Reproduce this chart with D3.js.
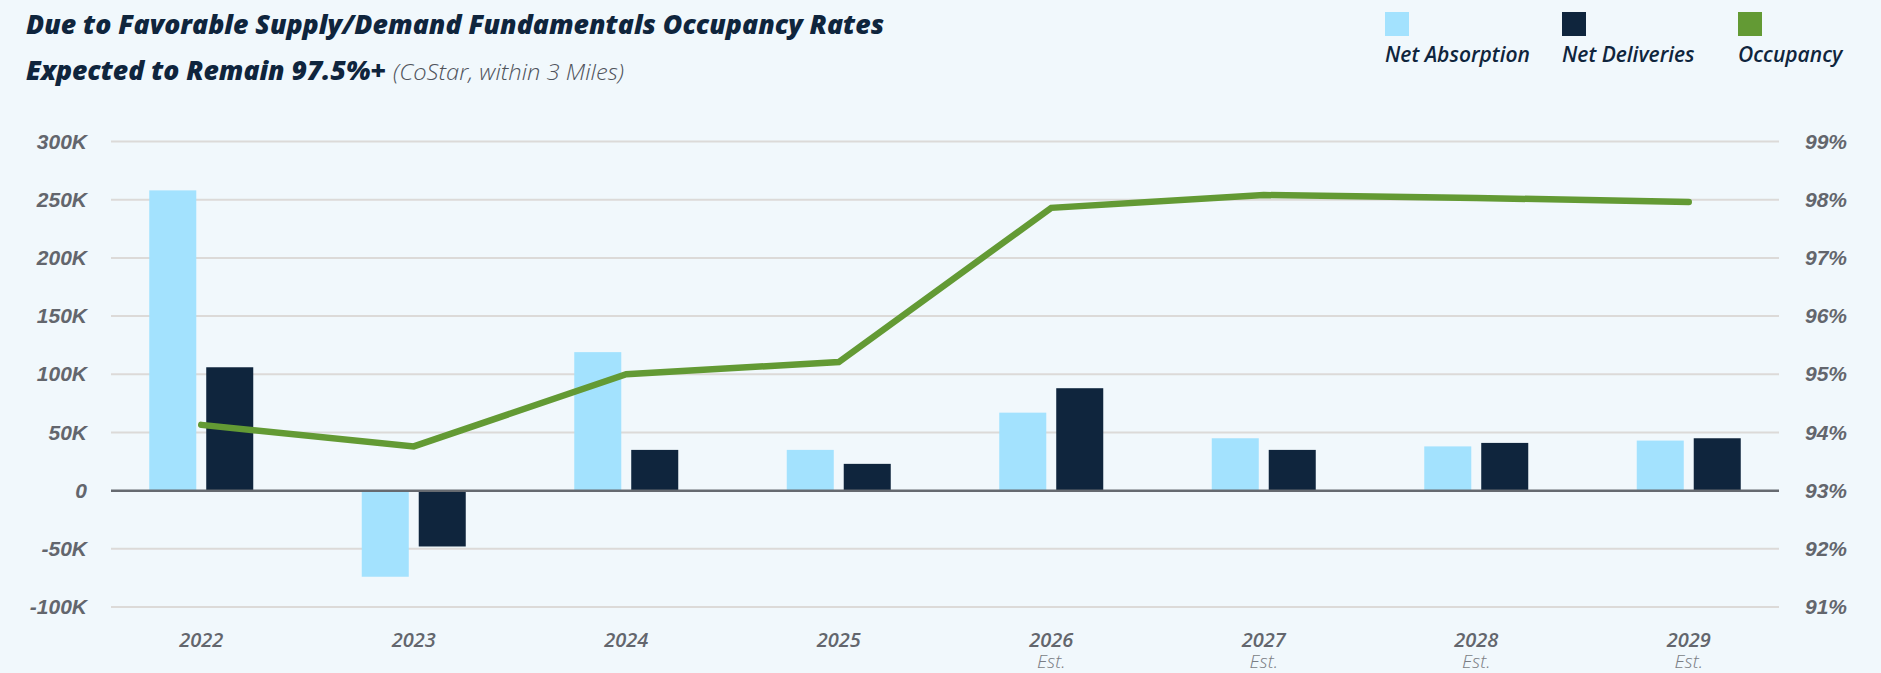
<!DOCTYPE html>
<html>
<head>
<meta charset="utf-8">
<script src="https://cdn.jsdelivr.net/npm/d3@7"></script>
<style>
  body { margin: 0; background: #f1f8fc; }
  svg { display: block; font-family: "Open Sans", sans-serif; }
  .axis text { font-style: italic; font-weight: 600; font-size: 21px; fill: #63666d; }
</style>
</head>
<body>
<div id="chart"></div>
<script>
// Chart data
const years = ["2022", "2023", "2024", "2025", "2026", "2027", "2028", "2029"];
const subLabels = ["", "", "", "", "Est.", "Est.", "Est.", "Est."];
const netAbsorption = [258000, -74000, 119000, 35000, 67000, 45000, 38000, 43000];
const netDeliveries = [106000, -48000, 35000, 23000, 88000, 35000, 41000, 45000];
const occupancy = [94.13, 93.76, 95.0, 95.21, 97.86, 98.08, 98.03, 97.96];
const seriesNames = ["Net Absorption", "Net Deliveries", "Occupancy"];
const barTicks = [-100000, -50000, 0, 50000, 100000, 150000, 200000, 250000, 300000];
const pctTicks = [91, 92, 93, 94, 95, 96, 97, 98, 99];

const W = 1881, H = 673;
const plot = {left: 111, right: 1779, top: 141.5, bottom: 607};

const svg = d3.select("#chart").append("svg")
  .attr("width", W)
  .attr("height", H);

svg.append("rect").attr("width", W).attr("height", H).attr("fill", "#f1f8fc");

// Scales
const x = d3.scaleBand().domain(years).range([95, 1795]).padding(0);
const xSub = d3.scaleBand().domain(seriesNames.slice(0, 2)).range([-52, 52]).paddingInner(0.175);
const y = d3.scaleLinear().domain([-100000, 300000]).range([plot.bottom, plot.top]);
const y2 = d3.scaleLinear().domain([91, 99]).range([plot.bottom, plot.top]);
const color = d3.scaleOrdinal().domain(seriesNames).range(["#a3e2fe", "#0f253d", "#639a34"]);
const cx = d => x(d) + x.bandwidth() / 2;

// Gridlines
svg.append("g").selectAll("line")
  .data(barTicks.filter(t => t !== 0))
  .enter().append("line")
  .attr("x1", plot.left).attr("x2", plot.right)
  .attr("y1", d => y(d)).attr("y2", d => y(d))
  .attr("stroke", "#dcdad8")
  .attr("stroke-width", 2);

// Axes
const yAxis = svg.append("g")
  .attr("class", "axis")
  .attr("transform", `translate(${plot.left},0)`)
  .call(d3.axisLeft(y).tickValues(barTicks).tickSize(0).tickPadding(24)
    .tickFormat(d => d === 0 ? "0" : (d / 1000) + "K"));
yAxis.select(".domain").remove();

const yAxis2 = svg.append("g")
  .attr("class", "axis")
  .attr("transform", `translate(${plot.right},0)`)
  .call(d3.axisRight(y2).tickValues(pctTicks).tickSize(0).tickPadding(26)
    .tickFormat(d => d + "%"));
yAxis2.select(".domain").remove();

// Bars
const groups = svg.append("g").selectAll("g")
  .data(years)
  .enter().append("g")
  .attr("transform", d => `translate(${cx(d)},0)`);

groups.append("rect")
  .attr("x", xSub("Net Absorption"))
  .attr("width", xSub.bandwidth())
  .attr("y", (d, i) => y(Math.max(0, netAbsorption[i])))
  .attr("height", (d, i) => Math.abs(y(netAbsorption[i]) - y(0)))
  .attr("fill", color("Net Absorption"));

groups.append("rect")
  .attr("x", xSub("Net Deliveries"))
  .attr("width", xSub.bandwidth())
  .attr("y", (d, i) => y(Math.max(0, netDeliveries[i])))
  .attr("height", (d, i) => Math.abs(y(netDeliveries[i]) - y(0)))
  .attr("fill", color("Net Deliveries"));

// Zero line
svg.append("line")
  .attr("x1", plot.left).attr("x2", plot.right)
  .attr("y1", y(0)).attr("y2", y(0))
  .attr("stroke", "#666a70")
  .attr("stroke-width", 2.5);

// Occupancy line
const line = d3.line()
  .x((d, i) => cx(years[i]))
  .y(d => y2(d));

svg.append("path")
  .datum(occupancy)
  .attr("d", line)
  .attr("fill", "none")
  .attr("stroke", color("Occupancy"))
  .attr("stroke-width", 6.5)
  .attr("stroke-linecap", "round")
  .attr("stroke-linejoin", "miter");

// X labels
const xl = svg.append("g").selectAll("g")
  .data(years)
  .enter().append("g")
  .attr("transform", d => `translate(${cx(d)},0)`);

xl.append("text")
  .attr("y", 647)
  .attr("text-anchor", "middle")
  .style("font-style", "italic")
  .style("font-weight", 600)
  .style("font-size", "20px")
  .attr("fill", "#63666d")
  .text(d => d);

xl.append("text")
  .attr("y", 668)
  .attr("text-anchor", "middle")
  .style("font-style", "italic")
  .style("font-weight", 300)
  .style("font-size", "19px")
  .attr("fill", "#7a7d84")
  .text((d, i) => subLabels[i]);

// Title
const title = svg.append("g").style("font-style", "italic").attr("fill", "#0f253d");
title.append("text")
  .attr("x", 26).attr("y", 34)
  .style("font-weight", 800)
  .style("font-size", "27px")
  .attr("textLength", 858)
  .attr("lengthAdjust", "spacingAndGlyphs")
  .text("Due to Favorable Supply/Demand Fundamentals Occupancy Rates");
title.append("text")
  .attr("x", 26).attr("y", 80)
  .style("font-weight", 800)
  .style("font-size", "27px")
  .attr("textLength", 360)
  .attr("lengthAdjust", "spacingAndGlyphs")
  .text("Expected to Remain 97.5%+");
title.append("text")
  .attr("x", 393).attr("y", 80)
  .style("font-weight", 300)
  .style("font-size", "22px")
  .attr("fill", "#4f535b")
  .attr("textLength", 231)
  .attr("lengthAdjust", "spacingAndGlyphs")
  .text("(CoStar, within 3 Miles)");

// Legend
const legendX = [1385, 1562, 1738];
const legend = svg.append("g").selectAll("g")
  .data(seriesNames)
  .enter().append("g")
  .attr("transform", (d, i) => `translate(${legendX[i]},12)`);

legend.append("rect")
  .attr("width", 24).attr("height", 24)
  .attr("fill", d => color(d));

legend.append("text")
  .attr("y", 50)
  .style("font-style", "italic")
  .style("font-weight", 600)
  .style("font-size", "21px")
  .attr("fill", "#0f253d")
  .text(d => d);
</script>
</body>
</html>
